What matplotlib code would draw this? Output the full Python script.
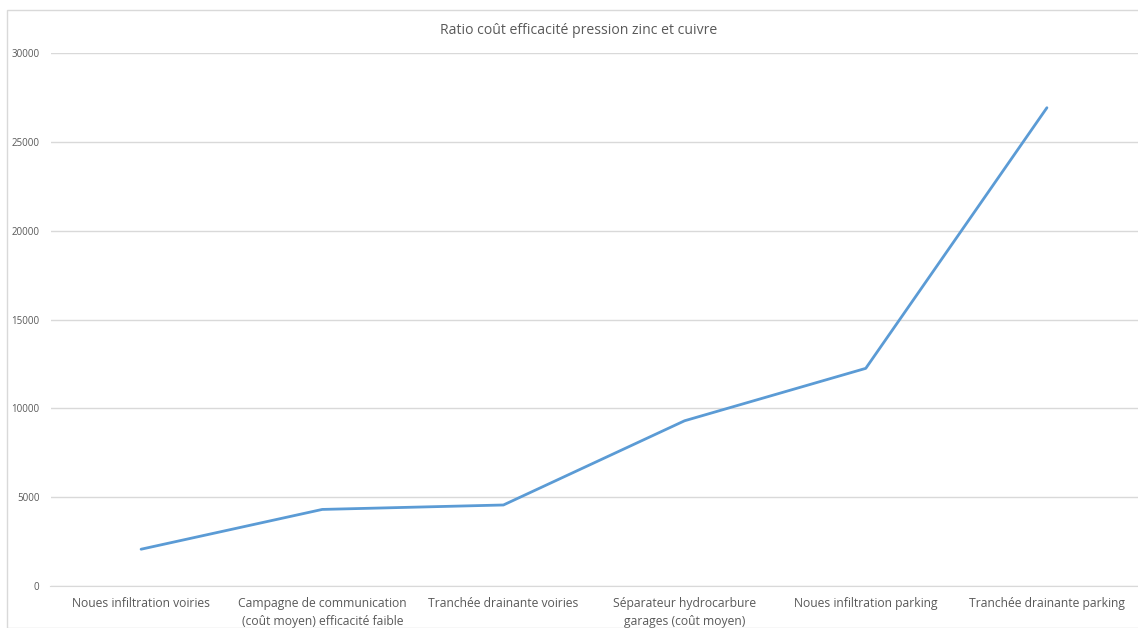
import matplotlib
matplotlib.use("Agg")
import matplotlib.pyplot as plt
from matplotlib.patches import Rectangle

categories = [
    "Noues infiltration voiries",
    "Campagne de communication\n(coût moyen) efficacité faible",
    "Tranchée drainante voiries",
    "Séparateur hydrocarbure\ngarages (coût moyen)",
    "Noues infiltration parking",
    "Tranchée drainante parking",
]
values = [2070, 4310, 4560, 9300, 12250, 26920]
yticks = [0, 5000, 10000, 15000, 20000, 25000, 30000]
title = "Ratio coût efficacité pression zinc et cuivre"

plt.rcParams['font.family'] = ['Open Sans', 'DejaVu Sans']

fig = plt.figure(figsize=(11.38, 6.28), dpi=100)
fig.patches.append(Rectangle((7/1138, 0), 1.0, (628-10)/628, transform=fig.transFigure,
                             fill=False, edgecolor='#D9D9D9', linewidth=1))
ax = fig.add_axes([50.5/1138, (628-586)/628, 1087/1138, 533/628])

x = list(range(len(categories)))
ax.plot(x, values, color='#5B9BD5', linewidth=2.0, solid_capstyle='round')
ax.set_xlim(-0.5, len(categories) - 0.5)
ax.set_ylim(0, 30000)
ax.set_yticks(yticks)
ax.set_yticklabels([str(v) for v in yticks], fontsize=7, color='#595959')
ax.set_xticks(x)
ax.set_xticklabels(categories, fontsize=8.7, color='#595959', linespacing=1.5)
ax.tick_params(axis='both', length=0)
ax.tick_params(axis='y', pad=8)
ax.tick_params(axis='x', pad=8)
ax.grid(axis='y', color='#D9D9D9', linewidth=1)
ax.set_axisbelow(True)
for s in ['top', 'right', 'left']:
    ax.spines[s].set_visible(False)
ax.spines['bottom'].set_color('#D9D9D9')
fig.text(579/1138, 1 - 30/628, title, ha='center', va='center', fontsize=10.1, color='#595959')

fig.savefig("out.png", dpi=100)
